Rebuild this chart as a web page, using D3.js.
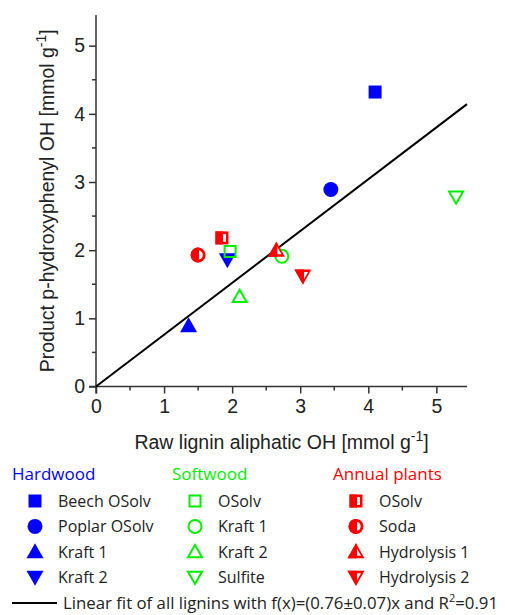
<!DOCTYPE html>
<meta charset="utf-8">
<script src="https://d3js.org/d3.v7.min.js"></script>
<style>
  body { margin: 0; background: #fff; }
  .axis-title { font-family: "Liberation Sans", Arial, sans-serif; font-size: 19.5px; fill: #222; }
  .legend text { font-family: "Open Sans", sans-serif; font-size: 16px; fill: #222; }
</style>
<body>
<div id="chart"></div>
<script>

// data
var names = ["Beech OSolv", "Poplar OSolv", "Kraft 1", "Kraft 2",
             "OSolv", "Kraft 1", "Kraft 2", "Sulfite",
             "OSolv", "Soda", "Hydrolysis 1", "Hydrolysis 2"];
var groups = ["Hardwood", "Hardwood", "Hardwood", "Hardwood",
              "Softwood", "Softwood", "Softwood", "Softwood",
              "Annual plants", "Annual plants", "Annual plants", "Annual plants"];
var shapes = ["square", "circle", "up", "down",
              "square", "circle", "up", "down",
              "square", "circle", "up", "down"];
var rawOH = [4.10, 3.45, 1.36, 1.93, 1.97, 2.73, 2.11, 5.29, 1.85, 1.50, 2.65, 3.04];
var productOH = [4.32, 2.89, 0.89, 1.86, 1.98, 1.91, 1.32, 2.78, 2.18, 1.93, 2.00, 1.62];
var groupNames = ["Hardwood", "Softwood", "Annual plants"];
var groupColors = ["#0000ff", "#00ee00", "#ff0000"];
var groupFill = ["full", "open", "half"];
var fitSlope = 0.76;
var xTicks = [0, 1, 2, 3, 4, 5];
var yTicks = [0, 1, 2, 3, 4, 5];

var width = 505, height = 615;
var margin = { top: 15, left: 96, right: 38, bottom: 228 };

var svg = d3.select("#chart").append("svg")
  .attr("width", width)
  .attr("height", height);

var x = d3.scaleLinear().domain([0, 5.45]).range([margin.left, width - margin.right]);
var y = d3.scaleLinear().domain([0, 5.45]).range([height - margin.bottom - 0.5, margin.top]);

var color = d3.scaleOrdinal().domain(groupNames).range(groupColors);
var fillType = d3.scaleOrdinal().domain(groupNames).range(groupFill);

// clip for the half filled markers (left part)
svg.append("defs").append("clipPath")
  .attr("id", "lefthalf")
  .append("rect")
  .attr("x", -20).attr("y", -20).attr("width", 21).attr("height", 40);

// marker outline, centered on 0,0
function shapePath(s) {
  if (s == "square") return "M-6.5,-6.5H6.5V6.5H-6.5Z";
  if (s == "circle") return "M7.5,0A7.5,7.5 0 1,1 -7.5,0A7.5,7.5 0 1,1 7.5,0Z";
  if (s == "up") return "M0,-8.5L8.5,6.5L-8.5,6.5Z";
  return "M0,8.5L8.5,-6.5L-8.5,-6.5Z";
}
function openPath(s) {
  if (s == "square") return "M-5.5,-5.5H5.5V5.5H-5.5Z";
  if (s == "circle") return "M6.5,0A6.5,6.5 0 1,1 -6.5,0A6.5,6.5 0 1,1 6.5,0Z";
  if (s == "up") return "M0,-6.8L7,5.5L-7,5.5Z";
  return "M0,6.8L7,-5.5L-7,-5.5Z";
}

function drawMarker(g, s, group) {
  var c = color(group), f = fillType(group);
  if (f == "full") {
    g.append("path").attr("d", shapePath(s)).attr("fill", c);
  } else if (f == "open") {
    g.append("path").attr("d", openPath(s)).attr("fill", "none")
      .attr("stroke", c).attr("stroke-width", 2);
  } else {
    // red outline, white inside, then left part filled again
    g.append("path").attr("d", shapePath(s)).attr("fill", c);
    g.append("path").attr("d", openPath(s)).attr("fill", "#fff")
      .attr("transform", "scale(0.72)");
    g.append("path").attr("d", shapePath(s)).attr("fill", c)
      .attr("clip-path", "url(#lefthalf)");
  }
}

// axes
var xAxis = svg.append("g")
  .attr("transform", "translate(0," + y(0) + ")")
  .call(d3.axisBottom(x).tickValues(xTicks).tickFormat(d3.format("d")).tickSize(7).tickPadding(4));
xAxis.append("g").selectAll("line")
  .data([0.5, 1.5, 2.5, 3.5, 4.5])
  .enter().append("line")
  .attr("x1", function (d) { return x(d); }).attr("x2", function (d) { return x(d); })
  .attr("y1", 0).attr("y2", 4);

var yAxis = svg.append("g")
  .attr("transform", "translate(" + x(0) + ",0)")
  .call(d3.axisLeft(y).tickValues(yTicks).tickFormat(d3.format("d")).tickSize(7).tickPadding(4));
yAxis.append("g").selectAll("line")
  .data([0.5, 1.5, 2.5, 3.5, 4.5])
  .enter().append("line")
  .attr("y1", function (d) { return y(d); }).attr("y2", function (d) { return y(d); })
  .attr("x1", 0).attr("x2", -4);

xAxis.select(".domain").remove();
yAxis.select(".domain").remove();
xAxis.append("line").attr("x1", x(0) - 7).attr("x2", x(5.45)).attr("y1", 0).attr("y2", 0);
yAxis.append("line").attr("y1", y(0) + 7).attr("y2", y(5.45)).attr("x1", 0).attr("x2", 0);
svg.selectAll("g line").attr("stroke", "#333").attr("stroke-width", 1.5);
svg.selectAll(".tick text")
  .attr("font-family", "Liberation Sans, Arial, sans-serif")
  .attr("font-size", 19.5)
  .attr("fill", "#222");
xAxis.selectAll(".tick text").attr("dy", "0.8em");

// axis titles
var xt = svg.append("text").attr("class", "axis-title")
  .attr("x", x(2.725)).attr("y", 449).attr("text-anchor", "middle");
xt.append("tspan").text("Raw lignin aliphatic OH [mmol g");
xt.append("tspan").attr("dy", -8).style("font-size", "14px").text("-1");
xt.append("tspan").attr("dy", 8).text("]");

var yt = svg.append("text").attr("class", "axis-title")
  .attr("transform", "translate(54," + y(2.725) + ") rotate(-90)")
  .attr("text-anchor", "middle");
yt.append("tspan").text("Product p-hydroxyphenyl OH [mmol g");
yt.append("tspan").attr("dy", -8).style("font-size", "14px").text("-1");
yt.append("tspan").attr("dy", 8).text("]");

// fit line
svg.append("line")
  .attr("x1", x(0)).attr("y1", y(0))
  .attr("x2", x(5.45)).attr("y2", y(5.45 * fitSlope))
  .attr("stroke", "#000").attr("stroke-width", 2);

// points
rawOH.forEach(function (v, i) {
  var g = svg.append("g").attr("transform", "translate(" + x(v) + "," + y(productOH[i]) + ")");
  drawMarker(g, shapes[i], groups[i]);
});

// legend
var legend = svg.append("g").attr("class", "legend");
var colX = [12, 172, 333];
groupNames.forEach(function (gname, j) {
  legend.append("text").attr("x", colX[j]).attr("y", 480)
    .style("fill", color(gname)).style("font-size", "17px").text(gname);
  names.forEach(function (n, i) {
    if (groups[i] != gname) return;
    var row = i % 4;
    var cy = 501 + row * 25.4;
    var g = legend.append("g").attr("transform", "translate(" + (colX[j] + 23) + "," + cy + ")");
    drawMarker(g, shapes[i], gname);
    legend.append("text").attr("x", colX[j] + 46).attr("y", cy + 6).text(n);
  });
});
legend.append("line").attr("x1", 12).attr("x2", 57).attr("y1", 603).attr("y2", 603)
  .attr("stroke", "#000").attr("stroke-width", 2);
var ft = legend.append("text").attr("x", 63).attr("y", 609).style("font-size", "16.8px");
ft.append("tspan").text("Linear fit of all lignins with f(x)=(0.76\u00b10.07)x and R");
ft.append("tspan").attr("dy", -7).style("font-size", "11px").text("2");
ft.append("tspan").attr("dy", 7).text("=0.91");

</script>
</body>
